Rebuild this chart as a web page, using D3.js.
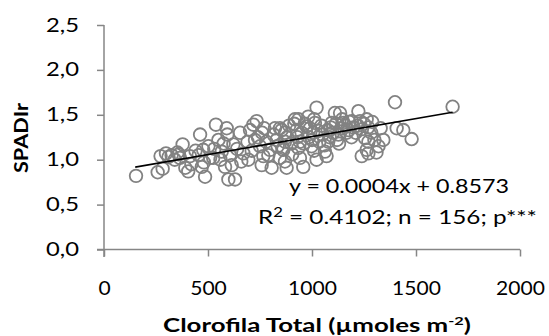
<!DOCTYPE html>
<html><head><meta charset="utf-8">
<script src="https://cdn.jsdelivr.net/npm/d3@7"></script>
<style>body{margin:0;background:#fff}svg{display:block}text{font-family:Lato,"Open Sans",sans-serif;fill:#000}</style>
</head><body><svg id="c" width="549" height="336"></svg>
<script>
const clorofila = [154,258,282,272,298,325,353,378,365,391,405,413,462,470,486,477,502,538,525,550,566,590,593,582,598,630,614,622,654,670,694,702,718,734,726,750,766,758,806,798,822,830,854,862,
846,870,862,870,878,918,926,942,934,942,958,974,982,1022,1014,1006,998,1022,1062,1070,1078,1095,1110,1135,1151,1167,1127,1191,1223,1231,1263,1255,1271,1263,1239,1271,1343,1399,1407,1439,1479,1676,
310,340,360,420,440,455,480,510,530,560,575,605,640,660,
710,740,760,780,790,815,835,845,880,890,900,905,915,930,
950,960,965,985,990,1000,1010,1030,1035,1045,1050,1060,1075,1085,1090,1100,1115,1120,1140,1145,1160,1175,1180,1200,1210,1220,1240,1250,1270,1285,1290,1300,1310,1320,1330,
1010,935,870,770,690,1130,1190];
const spadir = [0.82,0.86,0.90,1.04,1.07,1.05,1.08,1.17,1.02,0.91,0.87,1.04,1.28,0.92,0.81,1.11,1.15,1.39,1.02,1.22,1.09,1.35,1.28,0.92,0.78,0.78,0.94,1.17,1.30,1.07,1.00,1.33,1.39,1.43,1.22,1.15,1.04,0.94,0.91,1.11,1.35,1.22,1.33,1.13,
1.35,1.30,1.11,0.98,0.91,1.45,1.33,1.20,1.13,1.02,0.92,1.37,1.48,1.58,1.41,1.30,1.15,1.00,1.09,1.04,1.20,1.41,1.52,1.52,1.41,1.30,1.28,1.43,1.54,1.43,1.45,1.24,1.20,1.11,1.04,1.07,1.22,1.64,1.35,1.33,1.23,1.59,
1.03,1.00,1.06,0.95,1.10,1.05,0.97,1.02,1.12,1.00,1.18,1.05,1.12,0.98,
1.10,1.25,1.30,1.20,1.05,1.28,1.15,1.02,1.25,1.38,1.18,1.06,1.40,1.25,
1.30,1.18,1.40,1.25,1.35,1.22,1.10,1.32,1.20,1.38,1.28,1.16,1.33,1.25,1.36,1.30,1.40,1.22,1.35,1.45,1.38,1.33,1.42,1.36,1.30,1.38,1.34,1.40,1.36,1.30,1.42,1.22,1.08,1.15,1.35,
1.45,1.45,1.20,1.35,1.20,1.18,1.25];
const xTicks = [0,500,1000,1500,2000];
const yTicks = [0,0.5,1.0,1.5,2.0,2.5];
const slope = 0.0004, intercept = 0.8573;
const trendX = [150,1676];
const eqLabel = "y = 0.0004x + 0.8573";

const svg = d3.select("#c");
const x = d3.scaleLinear().domain([0,2000]).range([104,520]);
const y = d3.scaleLinear().domain([0,2.5]).range([249.5,25]);
const grey = "#868686";

// stretch a text horizontally to a target width around a pivot
function stretch(sel, width, pivot){
  const n = sel.node(), b = n.getBBox();
  const sx = width / b.width;
  const px = pivot==="middle" ? b.x + b.width/2 : b.x;
  sel.attr("transform",`translate(${px},0) scale(${sx},1) translate(${-px},0)`);
}

// axes
const ax = svg.append("g").attr("transform","translate(0,249.5)")
  .call(d3.axisBottom(x).tickValues(xTicks).tickSize(7).tickSizeOuter(0).tickFormat(d3.format("d")));
ax.select(".domain").attr("d","M97,0H520");
const ay = svg.append("g").attr("transform","translate(104,0)")
  .call(d3.axisLeft(y).tickValues(yTicks).tickSize(7).tickSizeOuter(0).tickFormat(d=>d3.format(".1f")(d).replace(".",",")));
ay.select(".domain").attr("d","M0,25V257");
svg.selectAll(".domain,.tick line").attr("stroke",grey).attr("stroke-width",1.5);
ax.selectAll(".tick text").attr("y",32).attr("font-size",19).attr("font-family","Lato").attr("fill","#000")
  .attr("textLength",d=>String(d).length*12.2).attr("lengthAdjust","spacingAndGlyphs");
ay.selectAll(".tick text").attr("x",-25).attr("font-size",19).attr("font-family","Lato").attr("fill","#000")
  .attr("textLength",33).attr("lengthAdjust","spacingAndGlyphs");

// points
svg.append("g").selectAll("circle").data(clorofila.map((c,i)=>[c,spadir[i]])).join("circle")
  .attr("cx",d=>x(d[0])).attr("cy",d=>y(d[1])).attr("r",6.3)
  .attr("fill","none").attr("stroke","#828282").attr("stroke-width",1.8);

// trendline
svg.append("line").attr("x1",x(trendX[0])).attr("y1",y(slope*trendX[0]+intercept))
  .attr("x2",x(trendX[1])).attr("y2",y(slope*trendX[1]+intercept))
  .attr("stroke","#000").attr("stroke-width",1.6);

// labels
const eq = svg.append("text").attr("x",289).attr("y",193).attr("font-size",19).text(eqLabel);
stretch(eq,220,"start");
const r2 = svg.append("text").attr("x",258).attr("y",224).attr("font-size",19);
r2.append("tspan").text("R");
r2.append("tspan").attr("dy",-7).attr("font-size",13).text("2");
r2.append("tspan").attr("dy",7).text(" = 0.4102; n = 156; p***");
stretch(r2,279,"start");

const xt = svg.append("text").attr("x",317).attr("y",332).attr("text-anchor","middle").attr("font-size",19).attr("font-weight","bold");
xt.append("tspan").text("Clorofila Total (µmoles m");
xt.append("tspan").attr("dy",-7).attr("font-size",12).text("-2");
xt.append("tspan").attr("dy",7).text(")");
stretch(xt,308,"middle");
svg.append("text").attr("transform","translate(28,138) rotate(-90)").attr("text-anchor","middle").attr("font-size",19).attr("font-weight","bold")
  .attr("textLength",70).attr("lengthAdjust","spacingAndGlyphs").text("SPADIr");
</script></body></html>
